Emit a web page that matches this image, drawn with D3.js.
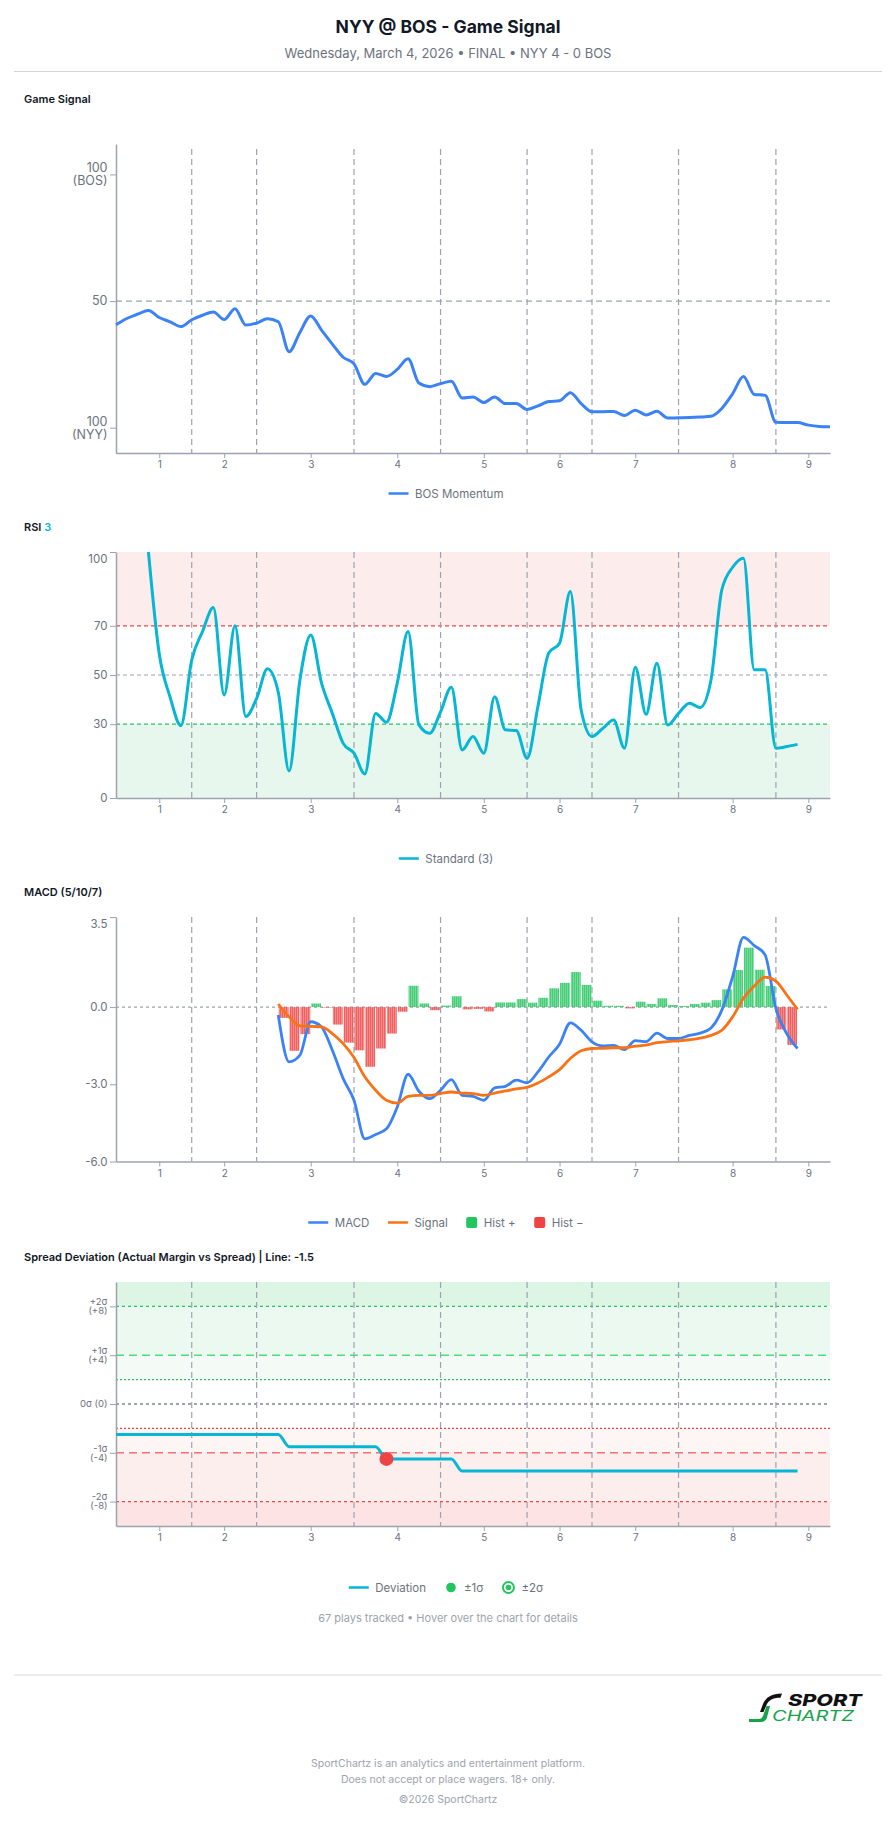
<!DOCTYPE html>
<html><head><meta charset="utf-8">
<script src="https://cdn.jsdelivr.net/npm/d3@7"></script>
<style>body{margin:0;background:#fff;} svg{display:block;font-family:Inter,"Noto Sans",sans-serif;}</style>
</head><body><svg id="c" width="896" height="1824"></svg>
<script>
// ---------------- DATA ----------------
const innings = ["1","2","3","4","5","6","7","8","9"];
const inningTickIdx = [4,10,18,26,34,41,48,57,64];
const inningBreaks = [7,13,22,30,38,44,52,61];
const playCount = 67;

const momentum = [40.6,43.1,44.8,46.3,43.5,41.8,39.9,42.6,44.4,45.7,
  42.7,47.0,40.5,41.3,43.0,41.8,30.0,37.6,44.1,38.5,
  33.0,27.8,25.2,17.1,21.4,20.2,23.0,27.2,17.6,16.2,
  17.4,18.3,11.7,12.1,9.9,12.1,9.5,9.5,7.2,8.6,
  10.3,10.6,13.8,9.5,6.3,6.3,6.4,4.8,6.9,5.0,
  6.5,3.8,3.9,4.0,4.2,4.5,7.6,13.4,20.2,13.1,
  12.8,2.1,2.0,2.0,1.0,0.5,0.4];

const rsiStart = 3;
const rsi = [100,58.5,41.0,29.4,56.1,67.7,77.4,41.9,70.0,33.1,
  40.5,52.5,43.0,11.0,48.0,66.3,46.7,34.4,22.2,18.2,
  9.8,34.4,30.8,46.7,67.7,29.7,26.3,35.0,45.0,19.5,
  25.0,18.2,41.2,27.7,27.4,16.1,37.2,58.9,62.9,83.9,
  35.8,25.0,28.3,31.7,20.2,53.2,34.0,54.8,29.7,34.4,
  38.5,36.8,48.0,84.6,93.8,97.5,52.1,52.1,20.2,20.9,21.8];

const macdStart = 15;
const macd = [-0.31,-2.13,-1.87,-0.57,-0.77,-1.68,-2.78,-3.62,-5.12,-4.95,
  -4.73,-3.88,-2.61,-3.27,-3.56,-3.23,-2.82,-3.43,-3.47,-3.62,
  -3.14,-3.08,-2.84,-2.94,-2.52,-1.94,-1.44,-0.61,-0.90,-1.35,
  -1.51,-1.49,-1.65,-1.30,-1.34,-1.01,-1.22,-1.22,-1.10,-1.01,
  -0.81,-0.12,1.18,2.71,2.39,2.03,-0.05,-1.03,-1.61];
const signal = [0.12,-0.38,-0.73,-0.75,-0.77,-1.03,-1.42,-1.96,-2.71,-3.23,
  -3.62,-3.73,-3.47,-3.43,-3.43,-3.36,-3.30,-3.34,-3.36,-3.43,
  -3.34,-3.26,-3.18,-3.12,-2.95,-2.71,-2.43,-2.00,-1.70,-1.61,
  -1.60,-1.58,-1.58,-1.52,-1.48,-1.38,-1.34,-1.31,-1.27,-1.21,
  -1.10,-0.90,-0.38,0.34,0.82,1.16,1.01,0.47,-0.09];
const hist = [-0.42,-1.70,-1.05,0.14,-0.02,-0.68,-1.38,-1.68,-2.32,-1.61,
  -1.03,-0.18,0.83,0.14,-0.12,0.06,0.42,-0.09,-0.07,-0.17,
  0.18,0.18,0.31,0.17,0.36,0.73,0.94,1.36,0.86,0.25,
  0.05,0.05,-0.05,0.21,0.12,0.34,0.08,0.04,0.12,0.17,
  0.27,0.69,1.44,2.31,1.45,0.82,-0.87,-1.47];

const deviation = [-2.5,-2.5,-2.5,-2.5,-2.5,-2.5,-2.5,-2.5,-2.5,-2.5,
  -2.5,-2.5,-2.5,-2.5,-2.5,-2.5,-3.5,-3.5,-3.5,-3.5,
  -3.5,-3.5,-3.5,-3.5,-3.5,-4.5,-4.5,-4.5,-4.5,-4.5,
  -4.5,-4.5,-5.5,-5.5,-5.5,-5.5,-5.5,-5.5,-5.5,-5.5,
  -5.5,-5.5,-5.5,-5.5,-5.5,-5.5,-5.5,-5.5,-5.5,-5.5,
  -5.5,-5.5,-5.5,-5.5,-5.5,-5.5,-5.5,-5.5,-5.5,-5.5,
  -5.5,-5.5,-5.5,-5.5];
const deviationAlerts = [25];

// ---------------- SETUP ----------------
const svg = d3.select('#c');
const FONT = 'Inter, "Noto Sans", sans-serif';
const AX = '#9ca3af', TXT = '#6b7280';
const x = d3.scaleLinear().domain([0, playCount - 1]).range([116, 830]);
const defs = svg.append('defs');
function stripe(id, color){
  const p = defs.append('pattern').attr('id', id).attr('patternUnits','userSpaceOnUse').attr('width',2).attr('height',4);
  p.append('rect').attr('width',2).attr('height',4).attr('fill',color);
  p.append('rect').attr('x',1).attr('width',0.7).attr('height',4).attr('fill','#fff').attr('opacity',0.4);
}
stripe('gpat','#22c55e'); stripe('rpat','#ef4444');

// header
svg.append('text').attr('x',448).attr('y',27).attr('dy','0.35em').attr('text-anchor','middle')
  .attr('font-size',17.5).attr('font-weight',700).attr('fill','#111827').text('NYY @ BOS - Game Signal');
svg.append('text').attr('x',448).attr('y',53).attr('dy','0.35em').attr('text-anchor','middle')
  .attr('font-size',13).attr('fill',TXT).text('Wednesday, March 4, 2026 • FINAL • NYY 4 - 0 BOS');
svg.append('line').attr('x1',14).attr('x2',882).attr('y1',71.5).attr('y2',71.5).attr('stroke','#d1d5db');

function sectionLabel(y, parts){
  const t = svg.append('text').attr('x',24).attr('y',y).attr('dy','0.35em').attr('font-size',11).attr('font-weight',600).attr('fill','#111827');
  parts.forEach(p => t.append('tspan').attr('fill', p.c || '#111827').text(p.t));
}
function innLines(top, bottom){
  svg.append('g').selectAll('line').data(inningBreaks).join('line')
    .attr('x1',d=>x(d)).attr('x2',d=>x(d)).attr('y1',top).attr('y2',bottom)
    .attr('stroke',AX).attr('stroke-width',1.2).attr('stroke-dasharray','6,4');
}
function hLine(y, v, color, dash, w){
  svg.append('line').attr('x1',116).attr('x2',830).attr('y1',y(v)).attr('y2',y(v))
    .attr('stroke',color).attr('stroke-width',w||1.2).attr('stroke-dasharray',dash);
}
function xAxis(bottom){
  const g = svg.append('g').attr('transform',`translate(0,${bottom})`)
    .call(d3.axisBottom(x).tickValues(inningTickIdx).tickFormat((d,i)=>innings[i]).tickSize(5).tickPadding(3).tickSizeOuter(0));
  g.select('.domain').attr('stroke',AX).attr('stroke-width',1.5);
  g.selectAll('.tick line').attr('stroke',AX);
  g.selectAll('text').attr('fill',TXT).attr('font-size',10).attr('font-family',FONT);
}
function yAxis(y, vals, fmt, fs, top, lh){
  const g = svg.append('g').attr('transform','translate(116,0)')
    .call(d3.axisLeft(y).tickValues(vals).tickFormat(()=> '').tickSize(6).tickSizeOuter(0));
  g.select('.domain').attr('stroke',AX).attr('stroke-width',1.5);
  g.selectAll('.tick line').attr('stroke',AX);
  g.selectAll('.tick text').remove();
  vals.forEach(v => {
    const lines = fmt(v);
    let cy = y(v);
    if (cy < top + 6) cy = top + 6.5;
    const t = svg.append('text').attr('x',107.5).attr('text-anchor','end').attr('fill',TXT).attr('font-size',fs);
    const step = lh || fs * 0.95;
    lines.forEach((l,i) => t.append('tspan').attr('x',107.5)
      .attr('y', cy + (i - (lines.length-1)/2) * step).attr('dy','0.35em').text(l));
  });
}
function legend(cy, items){
  const g = svg.append('g');
  let cx = 0;
  items.forEach(it => {
    const sw = it.type === 'line' ? 20 : (it.type === 'square' ? 11 : 13);
    if (it.type === 'line') g.append('line').attr('x1',cx).attr('x2',cx+sw).attr('y1',cy).attr('y2',cy).attr('stroke',it.color).attr('stroke-width',2.5);
    else if (it.type === 'square') g.append('rect').attr('x',cx).attr('y',cy-5.5).attr('width',11).attr('height',11).attr('rx',2).attr('fill',it.color);
    else if (it.type === 'dot') g.append('circle').attr('cx',cx+6.5).attr('cy',cy).attr('r',4.8).attr('fill',it.color);
    else if (it.type === 'ring'){
      g.append('circle').attr('cx',cx+6.5).attr('cy',cy).attr('r',5.5).attr('fill','none').attr('stroke',it.color).attr('stroke-width',2);
      g.append('circle').attr('cx',cx+6.5).attr('cy',cy).attr('r',2.8).attr('fill',it.color);
    }
    cx += sw + 6.5;
    const t = g.append('text').attr('x',cx).attr('y',cy).attr('dy','0.35em').attr('font-size',11.5).attr('fill',TXT).text(it.label);
    cx += t.node().getComputedTextLength() + 18.5;
  });
  const total = cx - 18.5;
  g.attr('transform',`translate(${446 - total/2},0)`);
}

// ---------------- PANEL 1: GAME SIGNAL ----------------
sectionLabel(99.5, [{t:'Game Signal'}]);
{
  const top = 144, bottom = 453;
  const y = d3.scaleLinear().domain([-10, 112]).range([bottom, top]);
  hLine(y, 50, AX, '6,4');
  innLines(149, bottom);
  yAxis(y, [0,50,100], v => v===100 ? ['100','(BOS)'] : v===0 ? ['100','(NYY)'] : ['50'], 12.5, top, 13);
  xAxis(bottom);
  svg.append('path').datum(momentum)
    .attr('d', d3.line().x((d,i)=>x(i)).y(d=>y(d)).curve(d3.curveMonotoneX))
    .attr('fill','none').attr('stroke','#3b82f6').attr('stroke-width',3).attr('stroke-linejoin','round');
  legend(493.5, [{type:'line',color:'#3b82f6',label:'BOS Momentum'}]);
}

// ---------------- PANEL 2: RSI ----------------
sectionLabel(527.5, [{t:'RSI '},{t:'3',c:'#06b6d4'}]);
{
  const top = 552, bottom = 798;
  const y = d3.scaleLinear().domain([0,100]).range([bottom, top]);
  svg.append('rect').attr('x',116).attr('width',714).attr('y',y(100)).attr('height',y(70)-y(100)).attr('fill','#fdecec');
  svg.append('rect').attr('x',116).attr('width',714).attr('y',y(30)).attr('height',y(0)-y(30)).attr('fill','#e8f7ee');
  hLine(y, 70, '#ef4444', '4,3');
  hLine(y, 50, AX, '4,3');
  hLine(y, 30, '#22c55e', '4,3');
  innLines(top, bottom);
  yAxis(y, [0,30,50,70,100], v => [String(v)], 11.5, top);
  xAxis(bottom);
  svg.append('path').datum(rsi)
    .attr('d', d3.line().x((d,i)=>x(i+rsiStart)).y(d=>y(d)).curve(d3.curveMonotoneX))
    .attr('fill','none').attr('stroke','#06b6d4').attr('stroke-width',3).attr('stroke-linejoin','round');
  legend(858.5, [{type:'line',color:'#06b6d4',label:'Standard (3)'}]);
}

// ---------------- PANEL 3: MACD ----------------
sectionLabel(892.5, [{t:'MACD (5/10/7)'}]);
{
  const top = 917, bottom = 1161.5;
  const y = d3.scaleLinear().domain([-6, 3.5]).range([bottom, top]);
  innLines(top, bottom);
  hLine(y, 0, AX, '3,3');
  const bw = x(1) - x(0);
  svg.append('g').selectAll('rect').data(hist).join('rect')
    .attr('x',(d,i)=>x(i+macdStart)+0.5).attr('width',bw-1)
    .attr('y',d=>d>=0 ? y(d) : y(0)).attr('height',d=>Math.abs(y(d)-y(0)))
    .attr('fill',d=>d>=0 ? 'url(#gpat)' : 'url(#rpat)').attr('opacity',0.85);
  yAxis(y, [3.5,0,-3,-6], v => [v.toFixed(1)], 11.5, top);
  xAxis(bottom);
  const ln = d3.line().x((d,i)=>x(i+macdStart)).y(d=>y(d)).curve(d3.curveMonotoneX);
  svg.append('path').datum(macd).attr('d',ln).attr('fill','none').attr('stroke','#3b82f6').attr('stroke-width',2.8);
  svg.append('path').datum(signal).attr('d',ln).attr('fill','none').attr('stroke','#f97316').attr('stroke-width',2.8);
  legend(1222.5, [
    {type:'line',color:'#3b82f6',label:'MACD'},
    {type:'line',color:'#f97316',label:'Signal'},
    {type:'square',color:'#22c55e',label:'Hist +'},
    {type:'square',color:'#ef4444',label:'Hist −'}]);
}

// ---------------- PANEL 4: SPREAD DEVIATION ----------------
sectionLabel(1257.5, [{t:'Spread Deviation (Actual Margin vs Spread) | Line: -1.5'}]);
{
  const top = 1282, bottom = 1526;
  const y = d3.scaleLinear().domain([-10, 10]).range([bottom, top]);
  const zones = [[8,10,'#dcf5e5'],[4,8,'#ecf9f1'],[2,4,'#f4fbf6'],[-4,-2,'#fef5f5'],[-8,-4,'#fdeeee'],[-10,-8,'#fde3e3']];
  zones.forEach(z => svg.append('rect').attr('x',116).attr('width',714).attr('y',y(z[1])).attr('height',y(z[0])-y(z[1])).attr('fill',z[2]));
  hLine(y, 8, '#22c55e', '3,3');
  hLine(y, 4, '#4ade80', '8,5', 1.5);
  hLine(y, 2, '#22c55e', '2,2');
  hLine(y, 0, AX, '3,3', 2);
  hLine(y, -2, '#ef4444', '2,2');
  hLine(y, -4, '#f87171', '8,5', 1.5);
  hLine(y, -8, '#ef4444', '3,3');
  innLines(top, bottom);
  yAxis(y, [8,4,0,-4,-8], v => ({8:['+2σ','(+8)'],4:['+1σ','(+4)'],0:['0σ (0)'],'-4':['-1σ','(-4)'],'-8':['-2σ','(-8)']})[v], 9.5, top, 9);
  xAxis(bottom);
  svg.append('path').datum(deviation)
    .attr('d', d3.line().x((d,i)=>x(i)).y(d=>y(d)).curve(d3.curveMonotoneX))
    .attr('fill','none').attr('stroke','#06b6d4').attr('stroke-width',3);
  svg.append('g').selectAll('circle').data(deviationAlerts).join('circle')
    .attr('cx',d=>x(d)).attr('cy',d=>y(deviation[d])).attr('r',7).attr('fill','#ef4444');
  legend(1587.5, [
    {type:'line',color:'#06b6d4',label:'Deviation'},
    {type:'dot',color:'#22c55e',label:'±1σ'},
    {type:'ring',color:'#22c55e',label:'±2σ'}]);
  svg.append('text').attr('x',448).attr('y',1618).attr('dy','0.35em').attr('text-anchor','middle')
    .attr('font-size',11).attr('fill','#9ca3af').text(`${playCount} plays tracked • Hover over the chart for details`);
}

// ---------------- FOOTER ----------------
svg.append('line').attr('x1',14).attr('x2',882).attr('y1',1675).attr('y2',1675).attr('stroke','#e5e7eb').attr('stroke-width',1.5);
svg.append('path').attr('d','M782 1693.5 C772 1693.5 766 1697 763 1704 L760 1712 L763.5 1712 L766.5 1705 C769 1699.5 774 1697.8 780.5 1697.8 Z').attr('fill','#111');
svg.append('path').attr('d','M766.5 1706 L763 1716 C762 1718 761 1719 759 1719 L749 1719 L749 1722 L761 1722 C764 1722 766 1720.5 767 1717.5 L770 1706 Z').attr('fill','#16a34a');
svg.append('text').attr('x',788).attr('y',1706).attr('font-size',16).attr('font-weight',800).attr('font-style','italic')
  .attr('fill','#111').attr('textLength',74).attr('lengthAdjust','spacingAndGlyphs').text('SPORT');
svg.append('text').attr('x',772).attr('y',1720.5).attr('font-size',14).attr('font-weight',400).attr('font-style','italic')
  .attr('fill','#16a34a').attr('textLength',82).attr('lengthAdjust','spacingAndGlyphs').text('CHARTZ');
[['SportChartz is an analytics and entertainment platform.',1763.5],['Does not accept or place wagers. 18+ only.',1779.5],['©2026 SportChartz',1799.5]]
  .forEach(([t,yy]) => svg.append('text').attr('x',448).attr('y',yy).attr('dy','0.35em').attr('text-anchor','middle')
    .attr('font-size',10.5).attr('fill','#9ca3af').text(t));
</script></body></html>
